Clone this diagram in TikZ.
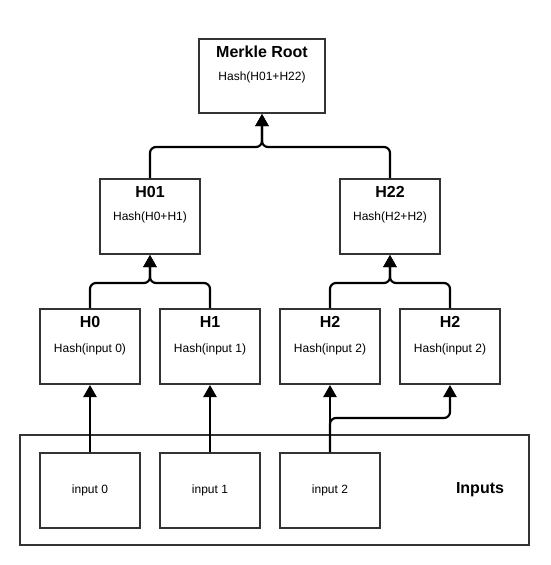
\documentclass[tikz,border=0pt]{standalone}
\usepackage{fontspec}
\setmainfont{Liberation Sans}
\usetikzlibrary{arrows.meta}
\definecolor{boxline}{HTML}{333333}
\tikzset{
  box/.style={draw=boxline, line width=2pt, fill=white, minimum width=100pt, minimum height=75pt, inner sep=0pt},
  titletext/.style={font=\fontsize{16}{19}\selectfont\bfseries, inner sep=0pt},
  bodytext/.style={font=\fontsize{12}{14}\selectfont, inner sep=0pt},
  conn/.style={line width=2.2pt, black, rounded corners=6pt, -{Triangle[length=12pt,width=13pt]}},
}
\begin{document}
\begin{tikzpicture}[x=1pt,y=-1pt]
\useasboundingbox (0,0) rectangle (550,565);
% outer inputs container
\node[box, minimum width=509pt, minimum height=110pt] (outer) at (274.5,490) {};
\node[titletext] (inputslbl) at (480,490) {Inputs};
% boxes
\node[box, minimum width=126pt, minimum height=74pt] (root) at (262,76) {};
\node[box] (h01) at (150,216.5) {};
\node[box] (h22) at (390,216.5) {};
\node[box] (h0) at (90,346.5) {};
\node[box] (h1) at (210,346.5) {};
\node[box] (h2a) at (330,346.5) {};
\node[box] (h2b) at (450,346.5) {};
\node[box] (in0) at (90,490.5) {};
\node[box] (in1) at (210,490.5) {};
\node[box] (in2) at (330,490.5) {};
% texts
\node[titletext] (rootT) at ([yshift=-14pt]root.north) {Merkle Root};
\node[bodytext] (rootB) at ([yshift=-39pt]root.north) {Hash(H01+H22)};
\node[titletext] (h01T) at ([yshift=-14pt]h01.north) {H01};
\node[bodytext] (h01B) at ([yshift=-39pt]h01.north) {Hash(H0+H1)};
\node[titletext] (h22T) at ([yshift=-14pt]h22.north) {H22};
\node[bodytext] (h22B) at ([yshift=-39pt]h22.north) {Hash(H2+H2)};
\node[titletext] (h0T) at ([yshift=-14pt]h0.north) {H0};
\node[bodytext] (h0B) at ([yshift=-41pt]h0.north) {Hash(input 0)};
\node[titletext] (h1T) at ([yshift=-14pt]h1.north) {H1};
\node[bodytext] (h1B) at ([yshift=-41pt]h1.north) {Hash(input 1)};
\node[titletext] (h2aT) at ([yshift=-14pt]h2a.north) {H2};
\node[bodytext] (h2aB) at ([yshift=-41pt]h2a.north) {Hash(input 2)};
\node[titletext] (h2bT) at ([yshift=-14pt]h2b.north) {H2};
\node[bodytext] (h2bB) at ([yshift=-41pt]h2b.north) {Hash(input 2)};
\node[bodytext] (in0T) at (in0.center) {input 0};
\node[bodytext] (in1T) at (in1.center) {input 1};
\node[bodytext] (in2T) at (in2.center) {input 2};
% junction coordinates
\coordinate (jroot) at (262,147);
\coordinate (j01) at (150,283);
\coordinate (j22) at (390,283);
\coordinate (jb) at (450,418);
% connectors
\draw[conn] (h01.north) |- (jroot) -- (root.south);
\draw[conn] (h22.north) |- (jroot) -- (root.south);
\draw[conn] (h0.north) |- (j01) -- (h01.south);
\draw[conn] (h1.north) |- (j01) -- (h01.south);
\draw[conn] (h2a.north) |- (j22) -- (h22.south);
\draw[conn] (h2b.north) |- (j22) -- (h22.south);
\draw[conn] (in0.north) -- (h0.south);
\draw[conn] (in1.north) -- (h1.south);
\draw[conn] (in2.north) -- (h2a.south);
\draw[conn] (in2.north) |- (jb) -- (h2b.south);
\end{tikzpicture}
\end{document}
